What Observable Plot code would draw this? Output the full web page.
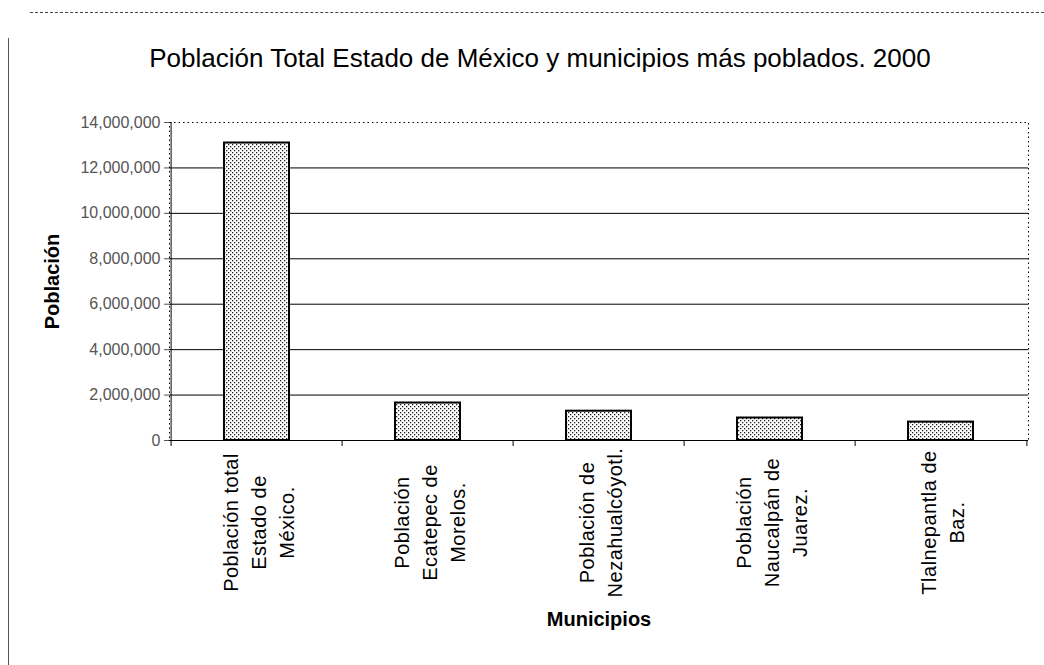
<!DOCTYPE html>
<html>
<head>
<meta charset="utf-8">
<script src="https://cdn.jsdelivr.net/npm/d3@7"></script>
<script src="https://cdn.jsdelivr.net/npm/@observablehq/plot@0.6"></script>
<style>
  html, body { margin: 0; padding: 0; background: #fff; }
  #wrap { position: relative; width: 1044px; height: 665px; overflow: hidden; font-family: "Liberation Sans", Arial, sans-serif; }
  #title { position: absolute; left: 0; top: 43px; width: 1080px; text-align: center; font-size: 26px; color: #000; }
  #chart { position: absolute; left: 0; top: 0; }
  #lborder { position: absolute; left: 8px; top: 38px; width: 0; height: 640px; border-left: 1px solid #555; }
  #tborder { position: absolute; left: 30px; top: 12px; width: 1014px; height: 0; border-top: 1px dashed #444; }
</style>
</head>
<body>
<div id="wrap">
  <div id="lborder"></div>
  <div id="tborder"></div>
  <div id="chart"></div>
  <div id="title">Población Total Estado de México y municipios más poblados. 2000</div>
</div>
<script>
const categories = [
  "Población total\nEstado de\nMéxico.",
  "Población\nEcatepec de\nMorelos.",
  "Población de\nNezahualcóyotl.",
  "Población\nNaucalpán de\nJuarez.",
  "Tlalnepantla de\nBaz."
];
const population = [13096686, 1650000, 1290000, 990000, 810000];
const yTicks = [0, 2000000, 4000000, 6000000, 8000000, 10000000, 12000000, 14000000];
const yLabel = "Población";
const xLabel = "Municipios";

const data = categories.map((c, i) => ({cat: c, value: population[i]}));

const W = 1044, H = 665, ML = 169, MR = 16, MT = 122, MB = 225;
const step = (W - ML - MR) / categories.length;

const plot = Plot.plot({
  width: W,
  height: H,
  marginLeft: ML,
  marginRight: MR,
  marginTop: MT,
  marginBottom: MB,
  style: {fontFamily: "'Liberation Sans', Arial, sans-serif", background: "transparent", color: "#000"},
  x: {domain: categories, paddingInner: 0.62, paddingOuter: 0.31, label: null},
  y: {domain: [0, 14000000], label: null},
  marks: [
    Plot.frame({stroke: "#000", strokeDasharray: "1.5,3"}),
    Plot.ruleY(yTicks.filter(v => v > 0 && v < 14000000), {stroke: "#000", strokeWidth: 1}),
    Plot.barY(data, {x: "cat", y: "value", fill: "#bbb", stroke: "#000", strokeWidth: 2, className: "popbar"}),
    Plot.ruleY([0], {stroke: "#000", strokeWidth: 1}),
    Plot.ruleX([categories[0]], {dx: -step / 2, y1: 0, y2: 14000000, stroke: "#000"}),
    Plot.axisY({ticks: yTicks, tickSize: 5, tickPadding: 4, tickFormat: d3.format(","), fontSize: 16, color: "#555", label: null}),
    Plot.axisX({tickSize: 6, dx: -step / 2, tickFormat: () => "", label: null}),
    Plot.axisX([categories[categories.length - 1]], {tickSize: 6, dx: step / 2, tickFormat: () => "", label: null}),
    Plot.axisX({tickSize: 0, tickRotate: -90, textAnchor: "middle", lineAnchor: "middle", tickPadding: 82, fontSize: 20, lineHeight: 1.4, label: null}),
    Plot.text([yLabel], {frameAnchor: "left", textAnchor: "middle", dx: -117, rotate: -90, fontSize: 20, fontWeight: "bold"}),
    Plot.text([xLabel], {frameAnchor: "bottom", dy: 185, fontSize: 20, fontWeight: "bold"})
  ]
});

// dotted fill pattern for the bars
const svg = d3.select(plot);
const defs = svg.insert("defs", ":first-child");
const pat = defs.append("pattern").attr("id", "dots").attr("patternUnits", "userSpaceOnUse").attr("width", 4).attr("height", 4);
pat.append("rect").attr("width", 4).attr("height", 4).attr("fill", "#fff");
pat.append("rect").attr("x", 0).attr("y", 0).attr("width", 1.3).attr("height", 1.3).attr("fill", "#222");
pat.append("rect").attr("x", 2).attr("y", 2).attr("width", 1.3).attr("height", 1.3).attr("fill", "#222");
svg.selectAll(".popbar rect").attr("fill", "url(#dots)");
svg.selectAll("[aria-label='x-axis tick label'] text").style("letter-spacing", "0.5px");

document.getElementById("chart").appendChild(plot);
</script>
</body>
</html>
